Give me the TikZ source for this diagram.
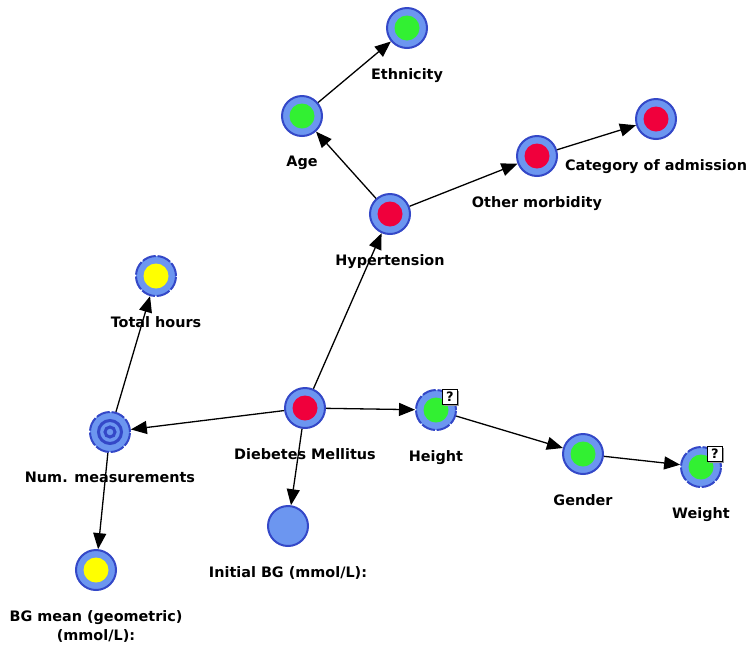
\documentclass[tikz,border=0pt]{standalone}
\usepackage{fontspec}
\setmainfont{DejaVu Sans}
\usetikzlibrary{arrows.meta, positioning, shadows}

\definecolor{nodefill}{RGB}{108,150,240}
\definecolor{nodeline}{RGB}{52,72,200}
\definecolor{stRed}{RGB}{240,0,60}
\definecolor{stGreen}{RGB}{50,240,50}
\definecolor{stYellow}{RGB}{255,255,0}

\begin{document}
\begin{tikzpicture}[x=1pt, y=-1pt,
        >={Triangle[length=16pt,width=13pt]},
        every path/.style={line width=1.3pt},
        var/.style={circle, draw=nodeline, fill=nodefill, line width=2pt,
          minimum size=40pt, inner sep=0pt},
        state/.style={var, path picture={
          \fill[#1] (path picture bounding box.center) circle (12.5pt);}},
        soft/.style={dash pattern=on 14pt off 1.8pt},
        rings/.style={var, soft, path picture={
          \draw[nodeline, solid, line width=3pt] (path picture bounding box.center) circle (11.5pt)
            (path picture bounding box.center) circle (5pt);}},
        query/.style={draw, fill=white, line width=0.8pt, minimum size=15pt, inner sep=0pt,
          font=\bfseries\fontsize{13}{14}\selectfont,
          drop shadow={shadow xshift=1.5pt, shadow yshift=-1.5pt, fill=black!40, opacity=1}},
        lbl/.style={font=\bfseries\fontsize{14.4}{19}\selectfont, inner sep=0pt, align=center}
    ]
    \useasboundingbox (0,0) rectangle (750,649);

    % variables
    \node[state=stGreen] (eth) at (407,28) {};
    \node[state=stGreen] (age) at (302,116) {};
    \node[state=stRed] (hyp) at (390,214) {};
    \node[state=stRed] (oth) at (537,156) {};
    \node[state=stRed] (cat) at (656,119) {};
    \node[state=stYellow, soft] (tot) at (156,276) {};
    \node[rings] (num) at (110,432) {};
    \node[state=stRed] (dm) at (305,408) {};
    \node[state=stGreen, soft] (hgt) at (436,410) {};
    \node[state=stGreen] (gen) at (583,454) {};
    \node[state=stGreen, soft] (wgt) at (701,467) {};
    \node[var] (ibg) at (288,526) {};
    \node[state=stYellow] (bgm) at (96,570) {};

    \node[query] (hgt-q) at ([shift={(14pt,13pt)}]hgt.center) {?};
    \node[query] (wgt-q) at ([shift={(14pt,13pt)}]wgt.center) {?};

    % names
    \node[lbl, below=18.5pt of eth] (eth-l) {Ethnicity};
    \node[lbl, below=18.5pt of age] (age-l) {Age};
    \node[lbl, below=18.5pt of hyp] (hyp-l) {Hypertension};
    \node[lbl, below=18.5pt of oth] (oth-l) {Other morbidity};
    \node[lbl, below=18.5pt of cat] (cat-l) {Category of admission};
    \node[lbl, below=18.5pt of tot] (tot-l) {Total hours};
    \node[lbl, below=18.5pt of num] (num-l) {Num. measurements};
    \node[lbl, below=18.5pt of dm] (dm-l) {Diebetes Mellitus};
    \node[lbl, below=18.5pt of hgt] (hgt-l) {Height};
    \node[lbl, below=18.5pt of gen] (gen-l) {Gender};
    \node[lbl, below=18.5pt of wgt] (wgt-l) {Weight};
    \node[lbl, below=18.5pt of ibg] (ibg-l) {Initial BG (mmol/L):};
    \node[lbl, below=18.5pt of bgm] (bgm-l) {BG mean (geometric)\\(mmol/L):};

    % links
    \draw[->] (age) -- (eth);
    \draw[->] (hyp) -- (age);
    \draw[->] (hyp) -- (oth);
    \draw[->] (oth) -- (cat);
    \draw[->] (dm) -- (hyp);
    \draw[->] (dm) -- (num);
    \draw[->] (dm) -- (hgt);
    \draw[->] (dm) -- (ibg);
    \draw[->] (num) -- (tot);
    \draw[->] (num) -- (bgm);
    \draw[->] (hgt) -- (gen);
    \draw[->] (gen) -- (wgt);
\end{tikzpicture}
\end{document}
